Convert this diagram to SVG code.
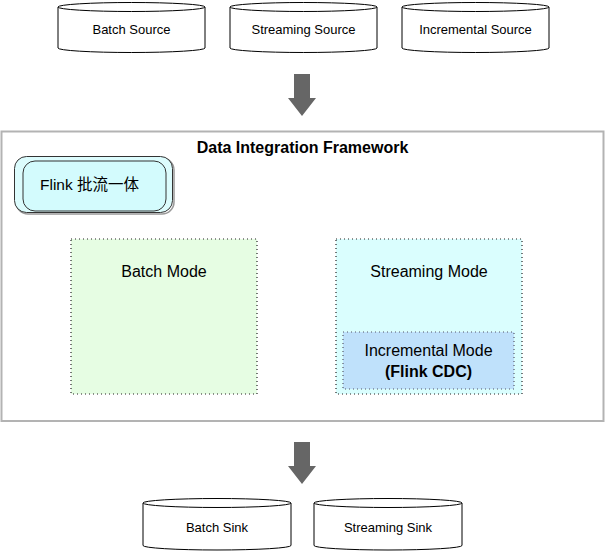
<svg xmlns="http://www.w3.org/2000/svg" width="605" height="553" viewBox="0 0 605 553">
<style>
text{font-family:"Liberation Sans",Arial,"Noto Sans CJK SC",sans-serif;fill:#000;text-anchor:middle}
.cyl{fill:#fff;stroke:#000;stroke-width:1}
.cl{font-size:13px}
.ml{font-size:16px}
.arrow{fill:#666}
.mode{stroke:#222;stroke-width:1.2;stroke-dasharray:1 3}
</style>
<rect width="605" height="553" fill="#fff"/>
<g id="framework">
<rect x="1.5" y="131.5" width="602" height="289.5" fill="#fff" stroke="#b3b3b3" stroke-width="2"/>
<text x="302.5" y="152.5" style="font-size:16px;font-weight:bold">Data Integration Framework</text>
</g>
<g id="batch-source">
<path class="cyl" d="M58,7 A73.5,4.5 0 0 1 205,7 L205,48 A73.5,4.5 0 0 1 58,48 Z"/>
<path class="cyl" fill="none" d="M58,7 A73.5,4.5 0 0 0 205,7"/>
<text class="cl" x="131.5" y="34">Batch Source</text>
</g>
<g id="streaming-source">
<path class="cyl" d="M230,7 A73.5,4.5 0 0 1 377,7 L377,48 A73.5,4.5 0 0 1 230,48 Z"/>
<path class="cyl" fill="none" d="M230,7 A73.5,4.5 0 0 0 377,7"/>
<text class="cl" x="303.5" y="34">Streaming Source</text>
</g>
<g id="incremental-source">
<path class="cyl" d="M402,7 A73.5,4.5 0 0 1 549,7 L549,48 A73.5,4.5 0 0 1 402,48 Z"/>
<path class="cyl" fill="none" d="M402,7 A73.5,4.5 0 0 0 549,7"/>
<text class="cl" x="475.5" y="34">Incremental Source</text>
</g>
<g id="flink">
<rect x="16" y="158" width="158" height="56" rx="12" fill="none" stroke="#999" stroke-width="1.5"/>
<rect x="14.5" y="156.5" width="158" height="56" rx="12" fill="#dcfcfd" stroke="#333" stroke-width="1"/>
<rect x="23" y="161" width="143" height="50" rx="12" fill="#d3fbfd" stroke="#333" stroke-width="1"/>
<text x="40" y="190" style="font-size:15.5px;text-anchor:start">Flink 批流一体</text>
</g>
<g id="batch-mode">
<rect class="mode" x="71" y="239" width="186" height="155" fill="#e6fde3"/>
<text class="ml" x="164" y="277">Batch Mode</text>
</g>
<g id="streaming-mode">
<rect class="mode" x="336" y="239" width="186" height="155" fill="#dafefe"/>
<text class="ml" x="429" y="277">Streaming Mode</text>
</g>
<g id="incremental-mode">
<rect x="343" y="332" width="171" height="57" fill="#bfe1fb" stroke="#556" stroke-width="1.2" stroke-dasharray="1 3"/>
<text class="ml" x="428.5" y="356">Incremental Mode</text>
<text class="ml" x="428.5" y="377" style="font-weight:bold">(Flink CDC)</text>
</g>
<g id="batch-sink">
<path class="cyl" d="M143,503 A74,4.5 0 0 1 291,503 L291,545.5 A74,4.5 0 0 1 143,545.5 Z"/>
<path class="cyl" fill="none" d="M143,503 A74,4.5 0 0 0 291,503"/>
<text class="cl" x="217" y="532">Batch Sink</text>
</g>
<g id="streaming-sink">
<path class="cyl" d="M314,503 A74,4.5 0 0 1 462,503 L462,545.5 A74,4.5 0 0 1 314,545.5 Z"/>
<path class="cyl" fill="none" d="M314,503 A74,4.5 0 0 0 462,503"/>
<text class="cl" x="388" y="532">Streaming Sink</text>
</g>
<g id="connectors">
<path class="arrow" d="M294,74 H310 V98 H316 L302,116 L288,98 H294 Z"/>
<path class="arrow" d="M294,442 H310 V466 H316 L302,484 L288,466 H294 Z"/>
</g>
</svg>
